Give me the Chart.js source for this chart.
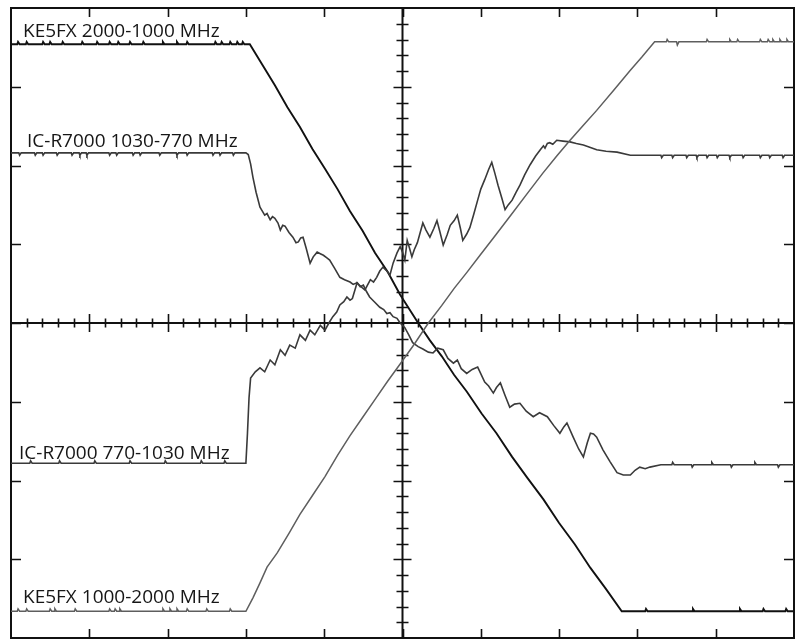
<!DOCTYPE html>
<html><head><meta charset="utf-8">
<script src="https://cdn.jsdelivr.net/npm/chart.js@4/dist/chart.umd.min.js"></script>
<style>html,body{margin:0;padding:0;background:#fff;}#wrap{width:797px;height:640px;}</style>
</head><body><div id="wrap"><canvas id="c" width="797" height="640"></canvas></div>
<script>
// Screen units: x = horizontal divisions (0..10), y = vertical divisions (-4..4)
const xDivs = [0,1,2,3,4,5,6,7,8,9,10];
const yDivs = [-4,-3,-2,-1,0,1,2,3,4];
const traceLabels = ["KE5FX 2000-1000 MHz","IC-R7000 1030-770 MHz","IC-R7000 770-1030 MHz","KE5FX 1000-2000 MHz"];

// KE5FX 2000-1000 MHz (black, descending)
const keDownX = [0, 0.08,0.09,0.11, 0.19,0.20,0.22, 0.40,0.41,0.43, 0.49,0.50,0.52, 0.65,0.66,0.68, 0.90,0.91,0.93, 1.09,1.10,1.12, 1.25,1.26,1.28, 1.36,1.37,1.39, 1.51,1.52,1.54, 1.68,1.69,1.71, 1.93,1.94,1.96, 2.11,2.12,2.14, 2.24,2.25,2.27, 2.60,2.61,2.63, 2.68,2.69,2.71, 2.79,2.80,2.82, 2.88,2.89,2.91, 2.95,2.96,2.98, 3.05,
  3.21,3.37,3.53,3.69,3.85,4.01,4.17,4.33,4.49,4.65,4.81,4.97,5.09,5.20,5.35,5.50,5.66,5.82,6.01,6.20,6.40,6.59,6.80,7.00,7.20,7.40,7.60,7.80,
  8.10,8.11,8.13, 8.70,8.71,8.73, 9.30,9.31,9.33, 9.60,9.61,9.63, 9.89,9.90,9.92, 10];
const keDownY = [3.54, 3.54,3.57,3.54, 3.54,3.57,3.54, 3.54,3.57,3.54, 3.54,3.57,3.54, 3.54,3.57,3.54, 3.54,3.57,3.54, 3.54,3.57,3.54, 3.54,3.57,3.54, 3.54,3.57,3.54, 3.54,3.57,3.54, 3.54,3.57,3.54, 3.54,3.57,3.54, 3.54,3.57,3.54, 3.54,3.57,3.54, 3.54,3.57,3.54, 3.54,3.57,3.54, 3.54,3.57,3.54, 3.54,3.57,3.54, 3.54,3.57,3.54, 3.54,
  3.28,3.02,2.74,2.49,2.21,1.96,1.70,1.42,1.17,0.89,0.65,0.36,0.17,0.00,-0.22,-0.42,-0.66,-0.87,-1.15,-1.40,-1.70,-1.96,-2.24,-2.54,-2.81,-3.11,-3.38,-3.66,
  -3.66,-3.63,-3.66, -3.66,-3.63,-3.66, -3.66,-3.63,-3.66, -3.66,-3.63,-3.66, -3.66,-3.63,-3.66, -3.66];

// KE5FX 1000-2000 MHz (grey, ascending)
const keUpX = [0, 0.08,0.09,0.11, 0.19,0.20,0.22, 0.49,0.50,0.52, 0.55,0.56,0.58, 0.81,0.82,0.84, 1.25,1.26,1.28, 1.32,1.33,1.35, 1.38,1.39,1.41, 1.93,1.94,1.96, 2.02,2.03,2.05, 2.11,2.12,2.14, 2.24,2.25,2.27, 2.49,2.50,2.52, 2.79,2.80,2.82,
  3.00,3.09,3.18,3.27,3.40,3.55,3.69,3.85,4.01,4.17,4.33,4.49,4.65,4.81,4.97,5.15,5.33,5.50,5.66,5.82,5.99,6.20,6.40,6.59,6.79,6.97,7.14,7.31,7.48,7.70,7.91,8.06,8.22,
  8.37,8.38,8.40, 8.50,8.51,8.53, 8.88,8.89,8.91, 9.17,9.18,9.20, 9.27,9.28,9.30, 9.56,9.57,9.59, 9.66,9.67,9.69, 9.72,9.73,9.75, 9.81,9.82,9.84, 9.90,9.91,9.93, 10];
const keUpY = [-3.66, -3.66,-3.63,-3.66, -3.66,-3.63,-3.66, -3.66,-3.63,-3.66, -3.66,-3.63,-3.66, -3.66,-3.63,-3.66, -3.66,-3.63,-3.66, -3.66,-3.63,-3.66, -3.66,-3.63,-3.66, -3.66,-3.63,-3.66, -3.66,-3.63,-3.66, -3.66,-3.63,-3.66, -3.66,-3.63,-3.66, -3.66,-3.63,-3.66, -3.66,-3.63,-3.66,
  -3.66,-3.49,-3.30,-3.10,-2.92,-2.67,-2.43,-2.19,-1.95,-1.68,-1.43,-1.20,-0.97,-0.74,-0.52,-0.27,0.00,0.22,0.44,0.64,0.86,1.13,1.39,1.64,1.90,2.12,2.32,2.51,2.70,2.96,3.21,3.38,3.57,
  3.57,3.60,3.57, 3.57,3.53,3.57, 3.57,3.60,3.57, 3.57,3.60,3.57, 3.57,3.60,3.57, 3.57,3.60,3.57, 3.57,3.60,3.57, 3.57,3.60,3.57, 3.57,3.60,3.57, 3.57,3.60,3.57, 3.57];

// IC-R7000 1030-770 MHz (dark grey, descending, noisy)
const icDownX = [0, 0.10,0.11,0.13, 0.30,0.31,0.33, 0.40,0.41,0.43, 0.58,0.59,0.61, 0.77,0.78,0.80, 0.87,0.88,0.90, 0.96,0.97,0.99, 1.25,1.26,1.28, 1.34,1.35,1.37, 1.55,1.56,1.58, 1.64,1.65,1.67, 1.89,1.90,1.92, 2.11,2.12,2.14, 2.24,2.25,2.27, 2.57,2.58,2.60, 2.66,2.67,2.69, 2.83,2.84,2.86,
  3.00,3.03,3.06,3.09,3.13,3.18,3.21,3.24,3.27,3.31,3.34,3.37,3.41,3.44,3.47,3.50,3.55,3.60,3.64,3.67,3.70,3.73,3.77,3.82,3.86,3.91,3.95,3.99,4.03,4.07,4.13,4.20,4.26,4.33,4.37,4.42,4.46,4.50,4.54,4.58,4.64,4.71,4.76,4.80,4.84,4.88,4.93,4.97,
  5.03,5.08,5.13,5.20,5.26,5.33,5.39,5.45,5.52,5.58,5.65,5.70,5.75,5.82,5.89,5.96,6.05,6.10,6.16,6.20,6.25,6.31,6.37,6.43,6.50,6.58,6.67,6.75,6.85,6.93,7.01,7.06,7.10,7.18,7.25,7.31,7.36,7.40,7.44,7.48,7.56,7.65,7.74,7.82,7.91,7.97,8.03,8.10,8.16,
  8.30, 8.44,8.45,8.47, 8.69,8.70,8.72, 8.94,8.95,8.97, 9.19,9.20,9.22, 9.49,9.50,9.52, 9.79,9.80,9.82, 10];
const icDownY = [2.16, 2.16,2.13,2.16, 2.16,2.13,2.16, 2.16,2.13,2.16, 2.16,2.13,2.16, 2.16,2.13,2.16, 2.16,2.13,2.16, 2.16,2.13,2.16, 2.16,2.13,2.16, 2.16,2.13,2.16, 2.16,2.13,2.16, 2.16,2.13,2.16, 2.16,2.13,2.16, 2.16,2.13,2.16, 2.16,2.13,2.16, 2.16,2.13,2.16, 2.16,2.13,2.16, 2.16,2.13,2.16,
  2.16,2.14,2.02,1.85,1.66,1.47,1.42,1.37,1.39,1.31,1.35,1.33,1.27,1.18,1.24,1.23,1.15,1.09,1.02,1.03,1.08,1.09,0.95,0.76,0.84,0.90,0.88,0.86,0.83,0.80,0.70,0.58,0.55,0.52,0.49,0.51,0.46,0.48,0.40,0.33,0.27,0.20,0.17,0.12,0.13,0.08,0.06,0.00,
  -0.06,-0.15,-0.25,-0.30,-0.33,-0.37,-0.38,-0.32,-0.34,-0.45,-0.51,-0.47,-0.58,-0.64,-0.59,-0.56,-0.75,-0.80,-0.89,-0.82,-0.76,-0.92,-1.07,-1.03,-1.02,-1.12,-1.19,-1.14,-1.19,-1.30,-1.40,-1.32,-1.27,-1.45,-1.60,-1.70,-1.52,-1.40,-1.41,-1.45,-1.61,-1.76,-1.90,-1.93,-1.93,-1.87,-1.83,-1.85,-1.83,
  -1.80, -1.80,-1.77,-1.80, -1.80,-1.83,-1.80, -1.80,-1.77,-1.80, -1.80,-1.83,-1.80, -1.80,-1.77,-1.80, -1.80,-1.83,-1.80, -1.80];

// IC-R7000 770-1030 MHz (dark grey, ascending, noisy)
const icUpX = [0, 0.24,0.25,0.27, 0.61,0.62,0.64, 1.06,1.07,1.09, 1.51,1.52,1.54, 1.96,1.97,1.99, 2.42,2.43,2.45, 2.72,2.73,2.75,
  3.00,3.02,3.04,3.06,3.12,3.18,3.24,3.31,3.37,3.44,3.50,3.56,3.63,3.69,3.76,3.82,3.88,3.95,4.01,4.06,4.11,4.16,4.20,4.25,4.29,4.33,4.36,4.42,4.47,4.52,4.59,4.63,4.67,4.71,4.75,4.80,4.84,4.88,4.93,4.97,
  5.00,5.03,5.06,5.09,5.12,5.15,5.19,5.26,5.30,5.35,5.40,5.44,5.48,5.52,5.57,5.61,5.66,5.70,5.74,5.77,5.82,5.86,5.91,5.96,6.00,6.05,6.10,6.14,6.18,6.22,6.27,6.31,6.35,6.40,6.45,6.50,6.56,6.63,6.70,6.76,6.80,6.82,6.85,6.88,6.92,6.97,7.05,7.14,7.22,7.31,7.40,7.48,7.60,7.74,7.91,
  8.30,8.31,8.33, 8.44,8.45,8.47, 8.62,8.63,8.65, 8.75,8.76,8.78, 8.88,8.89,8.91, 9.01,9.02,9.04, 9.17,9.18,9.20, 9.34,9.35,9.37, 9.56,9.57,9.59, 9.68,9.69,9.71, 9.85,9.86,9.88, 10];
const icUpY = [-1.78, -1.78,-1.75,-1.78, -1.78,-1.75,-1.78, -1.78,-1.75,-1.78, -1.78,-1.75,-1.78, -1.78,-1.75,-1.78, -1.78,-1.75,-1.78, -1.78,-1.75,-1.78,
  -1.78,-1.40,-0.95,-0.70,-0.62,-0.57,-0.62,-0.47,-0.53,-0.34,-0.41,-0.28,-0.32,-0.15,-0.22,-0.09,-0.15,-0.03,-0.09,0.00,0.08,0.14,0.23,0.27,0.33,0.29,0.31,0.51,0.46,0.42,0.55,0.52,0.58,0.66,0.71,0.66,0.61,0.76,0.89,0.97,
  0.90,0.80,1.05,0.95,0.84,0.93,1.02,1.27,1.18,1.09,1.20,1.30,1.15,0.99,1.12,1.24,1.30,1.37,1.20,1.05,1.13,1.21,1.38,1.56,1.70,1.82,1.95,2.04,1.90,1.75,1.58,1.44,1.50,1.56,1.66,1.75,1.88,2.01,2.12,2.20,2.25,2.22,2.28,2.29,2.27,2.32,2.31,2.30,2.28,2.26,2.23,2.20,2.18,2.17,2.13,
  2.13,2.10,2.13, 2.13,2.10,2.13, 2.13,2.10,2.13, 2.13,2.10,2.13, 2.13,2.10,2.13, 2.13,2.10,2.13, 2.13,2.10,2.13, 2.13,2.10,2.13, 2.13,2.10,2.13, 2.13,2.10,2.13, 2.13,2.10,2.13, 2.13];

function pts(xs, ys){ return xs.map((x,i)=>({x:x, y:ys[i]})); }

const scopeGraticule = {
  id:'scopeGraticule',
  beforeDatasetsDraw(chart){
    const ctx = chart.ctx, xs = chart.scales.x, ys = chart.scales.y;
    const L = xs.getPixelForValue(0), R = xs.getPixelForValue(10);
    const T = ys.getPixelForValue(4), B = ys.getPixelForValue(-4);
    const cx = xs.getPixelForValue(5), cy = ys.getPixelForValue(0);
    ctx.save();
    ctx.strokeStyle = '#111';
    ctx.lineCap = 'butt';
    ctx.lineWidth = 2;
    ctx.strokeRect(L, T, R-L, B-T);
    ctx.lineWidth = 1.6;
    ctx.beginPath();
    xDivs.slice(1,-1).forEach(v=>{
      const p = Math.round(xs.getPixelForValue(v))+0.5;
      ctx.moveTo(p, T); ctx.lineTo(p, T+9);
      ctx.moveTo(p, B); ctx.lineTo(p, B-9);
    });
    yDivs.slice(1,-1).forEach(v=>{
      const p = Math.round(ys.getPixelForValue(v))+0.5;
      ctx.moveTo(L, p); ctx.lineTo(L+10, p);
      ctx.moveTo(R, p); ctx.lineTo(R-10, p);
    });
    ctx.stroke();
    ctx.lineWidth = 2;
    ctx.beginPath();
    ctx.moveTo(L, cy); ctx.lineTo(R, cy);
    ctx.moveTo(cx, T); ctx.lineTo(cx, B);
    ctx.stroke();
    ctx.lineWidth = 1.6;
    ctx.beginPath();
    for (let k=1;k<50;k++){
      const v = k/5, p = Math.round(xs.getPixelForValue(v))+0.5;
      const h = (k%5===0) ? 9 : 4.5;
      ctx.moveTo(p, cy-h); ctx.lineTo(p, cy+h);
    }
    for (let k=-19;k<20;k++){
      if(k===0) continue;
      const v = k/5, p = Math.round(ys.getPixelForValue(v))+0.5;
      const h = (k%5===0) ? 9 : 6;
      ctx.moveTo(cx-h, p); ctx.lineTo(cx+h, p);
    }
    ctx.stroke();
    ctx.restore();
  },
  afterDatasetsDraw(chart){
    const ctx = chart.ctx, a = chart.chartArea;
    ctx.save();
    ctx.fillStyle = '#161616';
    ctx.font = '19px "Open Sans", "Noto Sans", sans-serif';
    ctx.textBaseline = 'alphabetic';
    const pos = [[12,29],[16,139],[8,451],[12,595]];
    traceLabels.forEach((t,i)=>{ ctx.fillText(t, a.left+pos[i][0], a.top+pos[i][1]); });
    ctx.restore();
  }
};

new Chart(document.getElementById('c'), {
  type:'line',
  data:{ datasets:[
    {label:traceLabels[3], data:pts(keUpX,keUpY), borderColor:'#5e5e5e', borderWidth:1.5},
    {label:traceLabels[1], data:pts(icDownX,icDownY), borderColor:'#3a3a3a', borderWidth:1.6},
    {label:traceLabels[2], data:pts(icUpX,icUpY), borderColor:'#3a3a3a', borderWidth:1.6},
    {label:traceLabels[0], data:pts(keDownX,keDownY), borderColor:'#111', borderWidth:1.9}
  ]},
  options:{
    responsive:false, animation:false, devicePixelRatio:1,
    elements:{ point:{radius:0}, line:{tension:0, fill:false} },
    layout:{ padding:{left:11, top:8, right:3, bottom:2} },
    scales:{
      x:{type:'linear', min:0, max:10, display:false},
      y:{type:'linear', min:-4, max:4, display:false}
    },
    plugins:{ legend:{display:false}, tooltip:{enabled:false} }
  },
  plugins:[scopeGraticule]
});
</script>
</body></html>
